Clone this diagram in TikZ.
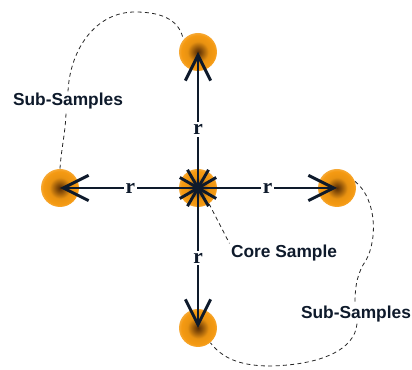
\documentclass[tikz,border=0pt]{standalone}
\usepackage{fontspec}
\setmainfont{Liberation Sans}
\newfontfamily\rfont{Liberation Serif}
\usetikzlibrary{arrows.meta}

\definecolor{sampleorange}{HTML}{F59A12}
\definecolor{samplecore}{HTML}{5A2E04}
\definecolor{arrowblue}{HTML}{0E1A2B}

\pgfdeclareradialshading{sampleshade}{\pgfpoint{0bp}{0bp}}{%
	color(0bp)=(samplecore); color(5bp)=(samplecore!70!sampleorange);
	color(14bp)=(sampleorange!95!black); color(22bp)=(sampleorange);
	color(25bp)=(sampleorange!85!white); color(50bp)=(sampleorange!85!white)}

\tikzset{
	sample/.style={circle, minimum size=28.5pt, inner sep=0pt, shading=sampleshade},
	radius arrow/.style={line width=2.2pt, color=arrowblue, -{Straight Barb[length=19pt, width=19pt, line width=2.2pt]}},
	rlabel/.style={fill=white, inner sep=1.5pt, font=\rfont\bfseries\fontsize{16}{16}\selectfont, text=arrowblue},
	boundary/.style={dashed, line width=0.6pt, dash pattern=on 3pt off 2.5pt, color=black!85},
	caption/.style={fill=white, inner sep=1pt, font=\bfseries\fontsize{13}{14}\selectfont, text=arrowblue}
}

\begin{document}
\begin{tikzpicture}[x=0.75pt, y=-0.75pt]
	\useasboundingbox (0,0) rectangle (412,370);

	\node[sample] (core) at (198, 188) {};
	\node[sample] (top) at (198, 52) {};
	\node[sample] (left) at (60, 188) {};
	\node[sample] (right) at (337, 188) {};
	\node[sample] (bottom) at (198, 328) {};

	% Draw the radius arrows with their labels
	\draw[radius arrow] (core.center) -- node[rlabel, pos=0.43] {r} (top.center);
	\draw[radius arrow] (core.center) -- node[rlabel, pos=0.49] {r} (left.center);
	\draw[radius arrow] (core.center) -- node[rlabel, pos=0.5] {r} (right.center);
	\draw[radius arrow] (core.center) -- node[rlabel, pos=0.5] {r} (bottom.center);

	% spokes of the core sample
	\foreach \a in {30, 60, 120, 150, 210, 240, 300, 330}
		\draw[line width=2.2pt, color=arrowblue] (core.center) -- +(\a:21);
	\fill[arrowblue] (core.center) circle (3);

	\node[caption] (sub1) at (68, 101) {Sub-Samples};
	\node[caption] (coretext) at (284, 253) {Core Sample};
	\node[caption] (sub2) at (356, 314) {Sub-Samples};

	\draw[boundary] (left.90) .. controls (61, 150) and (66, 130) .. (sub1.south -| 66, 0);
	\draw[boundary] (sub1.north -| 68, 0) .. controls (70, 50) and (95, 12) .. (135, 12)
		.. controls (165, 12) and (180, 22) .. (top.140);
	\draw[boundary] (core.-55) -- (coretext.north west);
	\draw[boundary] (right.20) .. controls (378, 200) and (378, 245) .. (363, 265)
		.. controls (356, 278) and (355, 290) .. (sub2.north -| 355, 0);
	\draw[boundary] (sub2.south -| 357, 0) .. controls (355, 350) and (320, 365) .. (270, 366)
		.. controls (235, 366) and (220, 355) .. (bottom.-50);
\end{tikzpicture}
\end{document}
